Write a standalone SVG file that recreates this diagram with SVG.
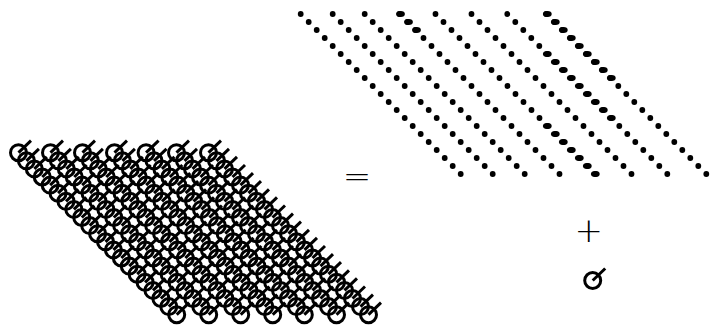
<svg xmlns="http://www.w3.org/2000/svg" width="711" height="329" viewBox="0 0 711 329">
<style>
.k{fill:none;stroke:#000;stroke-width:3}
.d{fill:#000}
.t{font-family:"DejaVu Sans ExtraLight","DejaVu Sans",sans-serif;font-weight:200;font-size:34px;fill:#000;text-anchor:middle}
</style>
<defs>
<g id="c"><circle class="k" r="8"/><path class="k" d="M0 0L12.5 -12"/></g>
<circle id="o" class="d" r="2.9"/>
<ellipse id="e" class="d" rx="4.4" ry="2.9"/>
<g id="cc">
<use href="#c" x="0" y="0"/><use href="#c" x="8" y="8.1"/><use href="#c" x="16" y="16.2"/><use href="#c" x="24" y="24.3"/><use href="#c" x="32" y="32.4"/><use href="#c" x="40" y="40.5"/><use href="#c" x="48" y="48.6"/><use href="#c" x="56" y="56.7"/><use href="#c" x="64" y="64.8"/><use href="#c" x="72" y="72.9"/><use href="#c" x="80" y="81"/><use href="#c" x="88" y="89.1"/><use href="#c" x="96" y="97.2"/><use href="#c" x="104" y="105.3"/><use href="#c" x="112" y="113.4"/><use href="#c" x="120" y="121.5"/><use href="#c" x="128" y="129.6"/><use href="#c" x="136" y="137.7"/><use href="#c" x="144" y="145.8"/><use href="#c" x="152" y="153.9"/><use href="#c" x="160" y="162"/>
</g>
<g id="cb">
<use href="#c" x="0" y="0"/><use href="#c" x="7.91" y="8.1"/><use href="#c" x="15.82" y="16.2"/><use href="#c" x="23.73" y="24.3"/><use href="#c" x="31.64" y="32.4"/><use href="#c" x="39.55" y="40.5"/><use href="#c" x="47.46" y="48.6"/><use href="#c" x="55.37" y="56.7"/><use href="#c" x="63.28" y="64.8"/><use href="#c" x="71.19" y="72.9"/><use href="#c" x="79.1" y="81"/><use href="#c" x="87.01" y="89.1"/><use href="#c" x="94.92" y="97.2"/><use href="#c" x="102.83" y="105.3"/><use href="#c" x="110.74" y="113.4"/><use href="#c" x="118.65" y="121.5"/><use href="#c" x="126.56" y="129.6"/><use href="#c" x="134.47" y="137.7"/><use href="#c" x="142.38" y="145.8"/><use href="#c" x="150.29" y="153.9"/><use href="#c" x="158.2" y="162"/>
</g>
<g id="dd">
<use href="#o" x="0" y="0"/><use href="#o" x="8" y="8"/><use href="#o" x="16" y="16"/><use href="#o" x="24" y="24"/><use href="#o" x="32" y="32"/><use href="#o" x="40" y="40"/><use href="#o" x="48" y="48"/><use href="#o" x="56" y="56"/><use href="#o" x="64" y="64"/><use href="#o" x="72" y="72"/><use href="#o" x="80" y="80"/><use href="#o" x="88" y="88"/><use href="#o" x="96" y="96"/><use href="#o" x="104" y="104"/><use href="#o" x="112" y="112"/><use href="#o" x="120" y="120"/><use href="#o" x="128" y="128"/><use href="#o" x="136" y="136"/><use href="#o" x="144" y="144"/><use href="#o" x="152" y="152"/><use href="#o" x="160" y="160"/>
</g>
</defs>
<g id="lattice" transform="translate(18.5 152.7)">
<use href="#cb" x="0"/><use href="#cb" x="32"/><use href="#cb" x="64"/><use href="#cb" x="96"/><use href="#cb" x="127.6"/><use href="#cc" x="158"/><use href="#cc" x="190"/>
</g>
<text id="equals" class="t" x="357" y="187.5">=</text>
<g id="dots" transform="translate(0 14)">
<use href="#dd" x="300.7"/><use href="#dd" x="332.7"/><use href="#dd" x="364.7"/><use href="#dd" x="399.5"/><use href="#dd" x="435.5"/><use href="#dd" x="471.5"/><use href="#dd" x="507.3"/><use href="#dd" x="546.3"/>
<g id="wide">
<use href="#e" x="400.5" y="0"/><use href="#e" x="408.5" y="8"/><use href="#e" x="416.5" y="16"/>
<use href="#e" x="547.3" y="0"/><use href="#e" x="555.3" y="8"/><use href="#e" x="563.3" y="16"/><use href="#e" x="571.3" y="24"/><use href="#e" x="579.3" y="32"/><use href="#e" x="587.3" y="40"/><use href="#e" x="595.3" y="48"/><use href="#e" x="603.3" y="56"/><use href="#e" x="611.3" y="64"/>
<use href="#e" x="547.3" y="40"/><use href="#e" x="555.3" y="48"/><use href="#e" x="563.3" y="56"/><use href="#e" x="571.3" y="64"/><use href="#e" x="579.3" y="72"/><use href="#e" x="587.3" y="80"/><use href="#e" x="595.3" y="88"/><use href="#e" x="603.3" y="96"/><use href="#e" x="611.3" y="104"/>
<use href="#e" x="547.3" y="112"/><use href="#e" x="555.3" y="120"/><use href="#e" x="563.3" y="128"/><use href="#e" x="571.3" y="136"/><use href="#e" x="579.3" y="144"/><use href="#e" x="587.3" y="152"/><use href="#e" x="595.3" y="160"/>
</g>
</g>
<text id="plus" class="t" x="588.7" y="242">+</text>
<g id="legend"><use href="#c" x="592.7" y="280.5"/></g>
</svg>
